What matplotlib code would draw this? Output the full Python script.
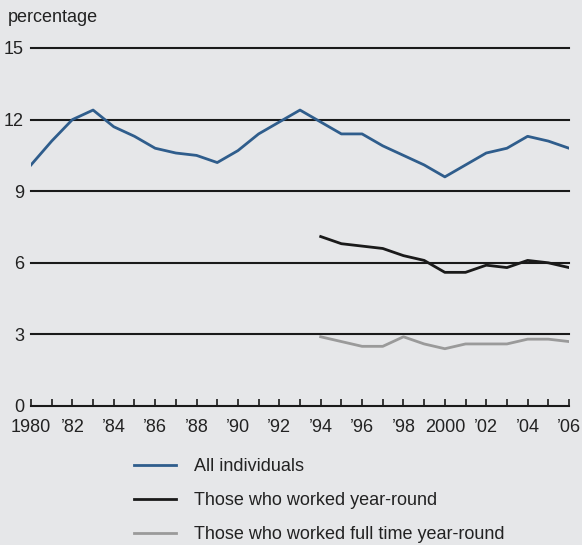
import numpy as np
import matplotlib
matplotlib.use('Agg')
import matplotlib.pyplot as plt

plt.rcParams['font.family'] = ['Liberation Sans', 'DejaVu Sans']

years_all = list(range(1980, 2007))
all_individuals = [10.1, 11.1, 12.0, 12.4, 11.7, 11.3, 10.8, 10.6, 10.5, 10.2,
                   10.7, 11.4, 11.9, 12.4, 11.9, 11.4, 11.4, 10.9, 10.5, 10.1,
                   9.6, 10.1, 10.6, 10.8, 11.3, 11.1, 10.8]
years_sub = list(range(1994, 2007))
year_round = [7.1, 6.8, 6.7, 6.6, 6.3, 6.1, 5.6, 5.6, 5.9, 5.8, 6.1, 6.0, 5.8]
full_time = [2.9, 2.7, 2.5, 2.5, 2.9, 2.6, 2.4, 2.6, 2.6, 2.6, 2.8, 2.8, 2.7]

tick_years = list(range(1980, 2007, 2))
tick_labels = ['1980', "\u201982", "\u201984", "\u201986", "\u201988", "\u201990", "\u201992",
               "\u201994", "\u201996", "\u201998", '2000', "\u201902", "\u201904", "\u201906"]
y_ticks = [0, 3, 6, 9, 12, 15]

bg = '#e6e7e9'
fs = 13
fig = plt.figure(figsize=(5.82, 5.45), dpi=100, facecolor=bg)
ax = fig.add_axes([31/582, 1 - 406/545, (569 - 31)/582, (406 - 48)/545])
ax.set_facecolor(bg)

for y in y_ticks[1:]:
    ax.axhline(y, color='#1a1a1a', lw=1.5, zorder=1, clip_on=False)

l1, = ax.plot(years_all, all_individuals, color='#2f5d8c', lw=2, zorder=3,
              label='All individuals')
l2, = ax.plot(years_sub, year_round, color='#1a1a1a', lw=2, zorder=3,
              label='Those who worked year-round')
l3, = ax.plot(years_sub, full_time, color='#9a9a9a', lw=2, zorder=3,
              label='Those who worked full time year-round')

ax.set_xlim(1980, 2006)
ax.set_ylim(0, 15)
for s in ['top', 'right', 'left']:
    ax.spines[s].set_visible(False)
ax.spines['bottom'].set_color('#1a1a1a')
ax.spines['bottom'].set_linewidth(1.5)
ax.spines['bottom'].set_zorder(4)

ax.set_xticks(tick_years)
ax.set_xticklabels(tick_labels)
ax.set_xticks(years_all, minor=True)
ax.tick_params(axis='x', which='both', direction='in', length=5, width=1.2,
               color='#1a1a1a', labelsize=fs, pad=9, labelcolor='#222222')
ax.set_yticks(y_ticks)
ax.tick_params(axis='y', length=0, labelsize=fs, pad=5, labelcolor='#222222')

fig.text(8/582, 1 - 17/545, 'percentage', fontsize=fs, color='#222222', va='center')

fig.legend(handles=[l1, l2, l3], loc='upper left', bbox_to_anchor=(118/582, 1 - 442/545),
           frameon=False, fontsize=fs, handlelength=2.3, handletextpad=1.0,
           labelspacing=0.93, labelcolor='#222222')

fig.savefig('out.png', dpi=100, facecolor=bg)
